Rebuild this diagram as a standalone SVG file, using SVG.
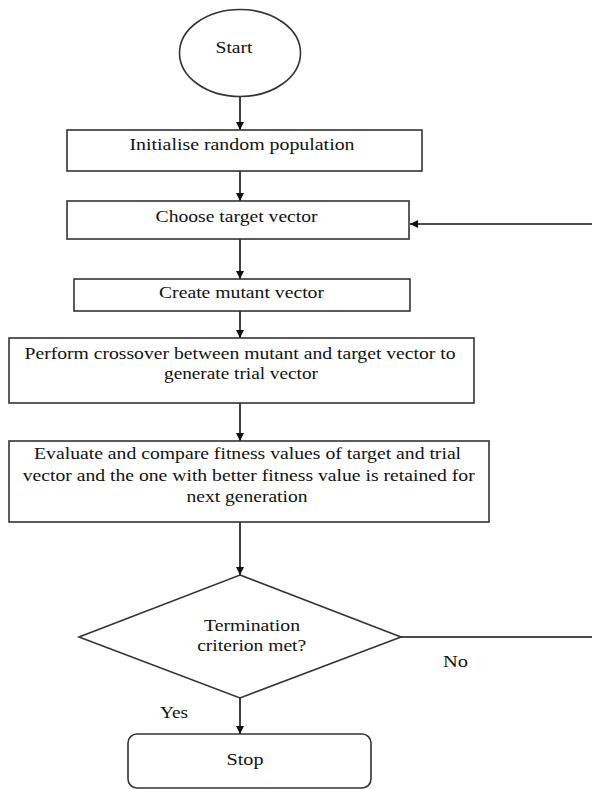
<svg xmlns="http://www.w3.org/2000/svg" width="592" height="789" viewBox="0 0 592 789">
<style>
.shape{fill:#fff;stroke:#333;stroke-width:1.6}
.t{font-family:"Liberation Serif","Times New Roman",serif;font-size:16px;fill:#111;text-anchor:middle}
.lbl{font-family:"Liberation Serif","Times New Roman",serif;font-size:16px;fill:#111}
.c{fill:none;stroke:#111;stroke-width:1.6}
</style>
<defs>
<marker id="ah" viewBox="0 0 10 10" refX="10" refY="5" markerWidth="5.5" markerHeight="5" orient="auto" markerUnits="strokeWidth">
<path d="M0,0 L10,5 L0,10 z" fill="#111"/>
</marker>
</defs>
<rect width="592" height="789" fill="#fff"/>
<g id="connectors">
<line class="c" x1="240" y1="97" x2="240" y2="130" marker-end="url(#ah)"/>
<line class="c" x1="240" y1="171" x2="240" y2="201" marker-end="url(#ah)"/>
<line class="c" x1="240" y1="239" x2="240" y2="279" marker-end="url(#ah)"/>
<line class="c" x1="240" y1="311" x2="240" y2="338" marker-end="url(#ah)"/>
<line class="c" x1="240" y1="403" x2="240" y2="441" marker-end="url(#ah)"/>
<line class="c" x1="240" y1="522" x2="240" y2="575" marker-end="url(#ah)"/>
<line class="c" x1="240" y1="698" x2="240" y2="734" marker-end="url(#ah)"/>
<line class="c" x1="401" y1="637" x2="592" y2="637"/>
<line class="c" x1="592" y1="224" x2="410" y2="224" marker-end="url(#ah)"/>
<text class="lbl" x="443" y="667" textLength="25" lengthAdjust="spacingAndGlyphs">No</text>
<text class="lbl" x="160" y="718" textLength="28" lengthAdjust="spacingAndGlyphs">Yes</text>
</g>
<g id="start">
<ellipse class="shape" cx="240" cy="53" rx="60.5" ry="43.5"/>
<text class="t" x="234" y="52.5" textLength="37" lengthAdjust="spacingAndGlyphs">Start</text>
</g>
<g id="init">
<rect class="shape" x="67" y="130" width="355" height="41"/>
<text class="t" x="242" y="150" textLength="225" lengthAdjust="spacingAndGlyphs">Initialise random population</text>
</g>
<g id="choose">
<rect class="shape" x="67" y="201" width="342" height="38"/>
<text class="t" x="236.6" y="221.5" textLength="162" lengthAdjust="spacingAndGlyphs">Choose target vector</text>
</g>
<g id="mutant">
<rect class="shape" x="74" y="279" width="336" height="32"/>
<text class="t" x="241.5" y="298" textLength="165" lengthAdjust="spacingAndGlyphs">Create mutant vector</text>
</g>
<g id="crossover">
<rect class="shape" x="9" y="338" width="465" height="65"/>
<text class="t" x="240" y="359" textLength="431" lengthAdjust="spacingAndGlyphs">Perform crossover between mutant and target vector to</text>
<text class="t" x="241" y="379" textLength="154" lengthAdjust="spacingAndGlyphs">generate trial vector</text>
</g>
<g id="evaluate">
<rect class="shape" x="9" y="441" width="480" height="81"/>
<text class="t" x="247.6" y="459" textLength="427" lengthAdjust="spacingAndGlyphs">Evaluate and compare fitness values of target and trial</text>
<text class="t" x="248.7" y="481" textLength="452" lengthAdjust="spacingAndGlyphs">vector and the one with better fitness value is retained for</text>
<text class="t" x="247" y="501.5" textLength="121" lengthAdjust="spacingAndGlyphs">next generation</text>
</g>
<g id="decision">
<polygon class="shape" points="240,575 401,637 240,698 79,637"/>
<text class="t" x="252" y="630.5" textLength="96" lengthAdjust="spacingAndGlyphs">Termination</text>
<text class="t" x="251.7" y="651" textLength="109" lengthAdjust="spacingAndGlyphs">criterion met?</text>
</g>
<g id="stop">
<rect class="shape" x="128" y="734" width="243" height="54" rx="9" ry="9"/>
<text class="t" x="245" y="765" textLength="37" lengthAdjust="spacingAndGlyphs">Stop</text>
</g>
</svg>
